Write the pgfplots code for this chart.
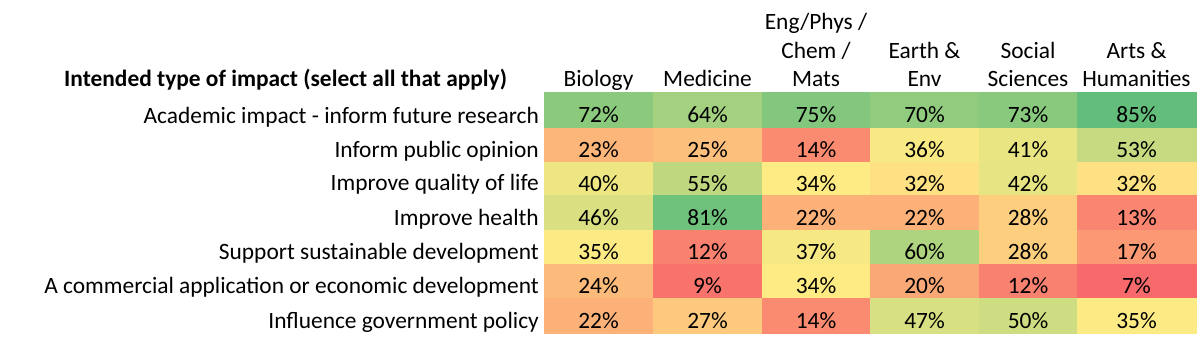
\documentclass[border=0pt]{standalone}
\usepackage{fontspec}
\setmainfont{Carlito}
\usepackage{pgfplots}
\usepackage{pgfplotstable}
\pgfplotsset{compat=1.18}

% Excel 3-colour scale: red at min (7), yellow at median (34), green at max (85)
\definecolor{xlred}{RGB}{248,105,107}
\definecolor{xlyel}{RGB}{255,235,132}
\definecolor{xlgrn}{RGB}{99,190,123}

\pgfdeclareplotmark{cell}{%
  \pgfmathsetlengthmacro\cwl{\cw}%
  \pgfmathsetlengthmacro\chl{\ch}%
  \pgfmathtruncatemacro\islow{\pv<=34}%
  \ifnum\islow=1
    \pgfmathsetmacro\pct{100*(\pv-7)/27}%
    \colorlet{cellc}{xlyel!\pct!xlred}%
  \else
    \pgfmathsetmacro\pct{100*(\pv-34)/51}%
    \colorlet{cellc}{xlgrn!\pct!xlyel}%
  \fi
  \pgfsetfillcolor{cellc}%
  \pgfsetstrokecolor{cellc}%
  \pgfsetlinewidth{0.8pt}%
  \pgfpathrectanglecorners{\pgfpoint{-\cwl}{-\chl}}{\pgfpoint{\cwl}{\chl}}%
  \pgfusepathqfillstroke}

% x = column centre, y = row centre (px from top), hw/hh = half width/height, v = percent
\pgfplotstableread{
x      y      hw    hh    v
598.5  110    54.5  18    72
707.5  110    54.5  18    64
816    110    54    18    75
924.5  110    54.5  18    70
1028   110    49    18    73
1136.5 110    59.5  18    85
598.5  145    54.5  17    23
707.5  145    54.5  17    25
816    145    54    17    14
924.5  145    54.5  17    36
1028   145    49    17    41
1136.5 145    59.5  17    53
598.5  178.5  54.5  16.5  40
707.5  178.5  54.5  16.5  55
816    178.5  54    16.5  34
924.5  178.5  54.5  16.5  32
1028   178.5  49    16.5  42
1136.5 178.5  59.5  16.5  32
598.5  212.5  54.5  17.5  46
707.5  212.5  54.5  17.5  81
816    212.5  54    17.5  22
924.5  212.5  54.5  17.5  22
1028   212.5  49    17.5  28
1136.5 212.5  59.5  17.5  13
598.5  247    54.5  17    35
707.5  247    54.5  17    12
816    247    54    17    37
924.5  247    54.5  17    60
1028   247    49    17    28
1136.5 247    59.5  17    17
598.5  281    54.5  17    24
707.5  281    54.5  17    9
816    281    54    17    34
924.5  281    54.5  17    20
1028   281    49    17    12
1136.5 281    59.5  17    7
598.5  315.5  54.5  17.5  22
707.5  315.5  54.5  17.5  27
816    315.5  54    17.5  14
924.5  315.5  54.5  17.5  47
1028   315.5  49    17.5  50
1136.5 315.5  59.5  17.5  35
}\cells

\newcommand{\tf}{\fontsize{23.4}{27}\selectfont}

\begin{document}
\begin{tikzpicture}
\begin{axis}[
  x=1pt, y=1pt,
  xmin=0, xmax=1203, ymin=0, ymax=341,
  y dir=reverse,
  hide axis,
  clip=false,
]
\path (rel axis cs:0,0) rectangle (rel axis cs:1,1);

\addplot[
  only marks, mark=cell,
  point meta=explicit,
  visualization depends on={\thisrow{hw} \as \cw},
  visualization depends on={\thisrow{hh} \as \ch},
  visualization depends on={\thisrow{v} \as \pv},
  nodes near coords={\pgfmathprintnumber[assume math mode=true]{\pgfplotspointmeta}\%},
  nodes near coords align={anchor=base},
  every node near coord/.append style={yshift=-12.8pt, font=\tf, text=black, inner sep=0pt},
] table[x=x, y=y, meta=v] {\cells};

% header
\node[anchor=base west, font=\tf\bfseries, inner sep=0pt] at (axis cs:64,86.5) {Intended type of impact (select all that apply)};
\node[anchor=base, font=\tf, inner sep=0pt] at (axis cs:598.5,86.5) {Biology};
\node[anchor=base, font=\tf, inner sep=0pt] at (axis cs:707.5,86.5) {Medicine};
\node[anchor=base, font=\tf, inner sep=0pt] at (axis cs:816,29.5) {Eng/Phys /};
\node[anchor=base, font=\tf, inner sep=0pt] at (axis cs:816,58) {Chem /};
\node[anchor=base, font=\tf, inner sep=0pt] at (axis cs:816,86.5) {Mats};
\node[anchor=base, font=\tf, inner sep=0pt] at (axis cs:924.5,58) {Earth \&};
\node[anchor=base, font=\tf, inner sep=0pt] at (axis cs:924.5,86.5) {Env};
\node[anchor=base, font=\tf, inner sep=0pt] at (axis cs:1028,58) {Social};
\node[anchor=base, font=\tf, inner sep=0pt] at (axis cs:1028,86.5) {Sciences};
\node[anchor=base, font=\tf, inner sep=0pt] at (axis cs:1136.5,58) {Arts \&};
\node[anchor=base, font=\tf, inner sep=0pt] at (axis cs:1136.5,86.5) {Humanities};

% row labels
\node[anchor=base east, font=\tf, inner sep=0pt] at (axis cs:539,123.5) {Academic impact - inform future research};
\node[anchor=base east, font=\tf, inner sep=0pt] at (axis cs:539,157.5) {Inform public opinion};
\node[anchor=base east, font=\tf, inner sep=0pt] at (axis cs:539,190.5) {Improve quality of life};
\node[anchor=base east, font=\tf, inner sep=0pt] at (axis cs:539,225.5) {Improve health};
\node[anchor=base east, font=\tf, inner sep=0pt] at (axis cs:539,259.5) {Support sustainable development};
\node[anchor=base east, font=\tf, inner sep=0pt] at (axis cs:539,293.5) {A commercial application or economic development};
\node[anchor=base east, font=\tf, inner sep=0pt] at (axis cs:539,328.5) {Influence government policy};
\end{axis}
\end{tikzpicture}
\end{document}
